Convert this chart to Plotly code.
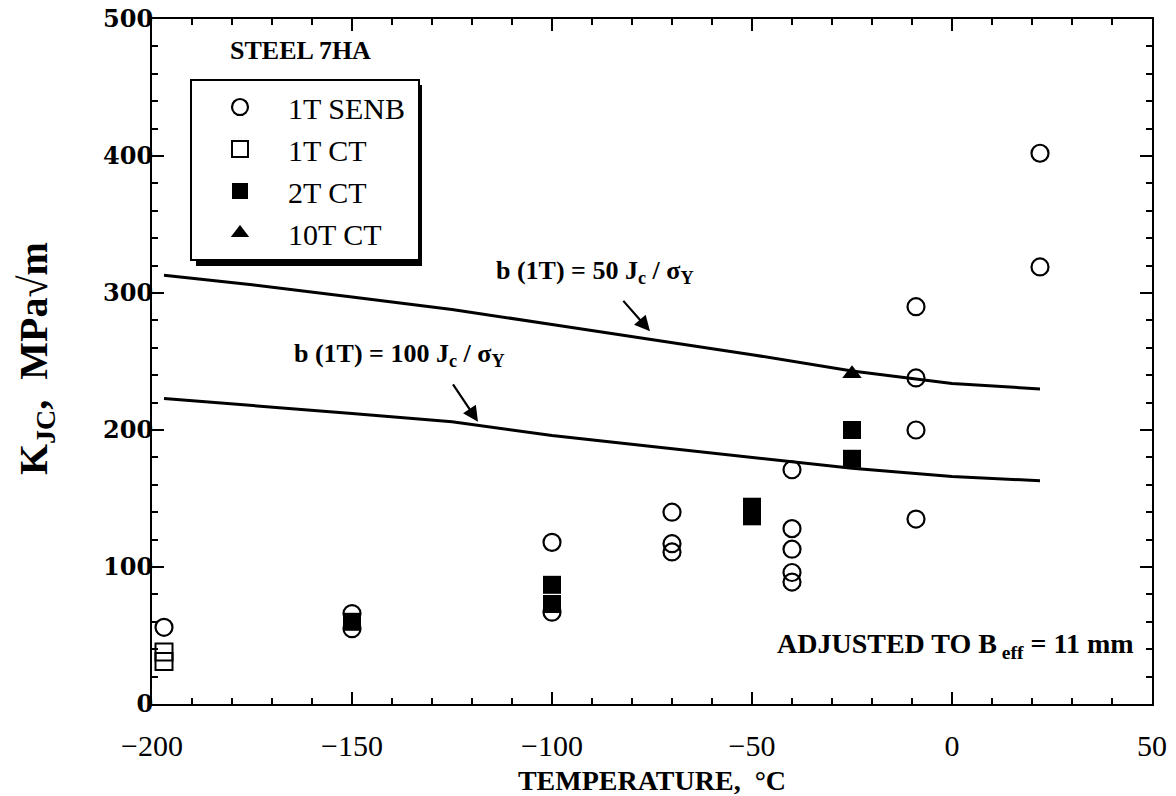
import plotly.graph_objects as go

# ---- data ----
senb_T = [-197, -150, -150, -100, -100, -70, -70, -70, -40, -40, -40, -40, -40, -9, -9, -9, -9, 22, 22]
senb_K = [56, 66, 55, 118, 67, 140, 117, 111, 171, 128, 113, 96, 89, 290, 238, 200, 135, 402, 319]

ct1_T = [-197, -197]
ct1_K = [38, 31]

ct2_T = [-150, -100, -100, -50, -50, -25, -25]
ct2_K = [60, 87, 73, 144, 137, 200, 179]

ct10_T = [-25]
ct10_K = [241]

line50_T = [-197, -175, -150, -125, -100, -75, -50, -25, 0, 22]
line50_K = [313, 306, 297, 288, 277, 266, 255, 243, 234, 230]

line100_T = [-197, -175, -150, -125, -100, -75, -50, -25, 0, 22]
line100_K = [223, 218, 212, 206, 196, 188, 180, 172, 166, 163]

x_ticks = [-200, -150, -100, -50, 0, 50]
x_ticklabels = ["\u2212200", "\u2212150", "\u2212100", "\u221250", "0", "50"]
y_ticks = [0, 100, 200, 300, 400, 500]

SERIF = "Liberation Serif"

fig = go.Figure()

fig.add_trace(go.Scatter(x=line50_T, y=line50_K, mode="lines",
                         line=dict(color="black", width=3), showlegend=False, hoverinfo="skip"))
fig.add_trace(go.Scatter(x=line100_T, y=line100_K, mode="lines",
                         line=dict(color="black", width=3), showlegend=False, hoverinfo="skip"))

fig.add_trace(go.Scatter(x=senb_T, y=senb_K, mode="markers", name="1T SENB\u00a0", legendgroup="a",
                         marker=dict(symbol="circle-open", size=17, color="black", line=dict(width=2.2))))
fig.add_trace(go.Scatter(x=ct1_T, y=ct1_K, mode="markers", name="1T CT", legendgroup="b",
                         marker=dict(symbol="square-open", size=17, color="black", line=dict(width=2))))
fig.add_trace(go.Scatter(x=ct2_T, y=ct2_K, mode="markers", name="2T CT", legendgroup="c",
                         marker=dict(symbol="square", size=18, color="black")))
fig.add_trace(go.Scatter(x=ct10_T, y=ct10_K, mode="markers", name="10T CT", legendgroup="d",
                         marker=dict(symbol="triangle-up", size=17, color="black")))

# legend shadow
fig.add_shape(type="rect", xref="paper", yref="paper",
              x0=0.044, x1=0.270, y0=0.6394, y1=0.9036,
              fillcolor="black", line=dict(width=0), layer="above")

def bold(size, family=SERIF):
    return dict(family=family, size=size, color="black", weight="bold")

common = dict(xref="paper", yref="paper", showarrow=False, xanchor="center", yanchor="middle")
fig.add_annotation(x=0.148, y=0.9547, text="STEEL 7HA", font=bold(26), **common)
fig.add_annotation(x=0.443, y=0.6307,
                   text="b (1T) = 50 J<sub>c</sub> / \u03c3<sub>Y</sub>", font=bold(26), **common)
fig.add_annotation(x=0.247, y=0.5095,
                   text="b (1T) = 100 J<sub>c</sub> / \u03c3<sub>Y</sub>", font=bold(26), **common)
fig.add_annotation(x=0.803, y=0.0861,
                   text="ADJUSTED TO B<sub> eff</sub> = 11 mm", font=bold(28), **common)
fig.add_annotation(x=-0.116, y=0.5036, text="K<sub>JC</sub>,  MPa\u221am", textangle=-90,
                   font=bold(40), **common)

# arrows
fig.add_annotation(x=-75.5, y=272, ax=-28, ay=-32, text="", showarrow=True,
                   arrowhead=2, arrowsize=1.4, arrowwidth=2.2, arrowcolor="black")
fig.add_annotation(x=-118.5, y=206, ax=-26, ay=-39, text="", showarrow=True,
                   arrowhead=2, arrowsize=1.4, arrowwidth=2.2, arrowcolor="black")

fig.update_layout(
    width=1176, height=796,
    margin=dict(l=144, r=32, t=11, b=100, autoexpand=False),
    paper_bgcolor="white", plot_bgcolor="white",
    showlegend=True,
    legend=dict(x=0.038, y=0.9124, xanchor="left", yanchor="top",
                bgcolor="white", bordercolor="black", borderwidth=2,
                font=dict(family=SERIF, size=30, color="black"),
                tracegroupgap=13, itemwidth=86, traceorder="normal"),
    xaxis=dict(range=[-200, 50], tickmode="array", tickvals=x_ticks, ticktext=x_ticklabels,
               showline=True, linecolor="black", linewidth=2, mirror="ticks",
               ticks="inside", ticklen=12, tickwidth=2, tickcolor="black",
               minor=dict(dtick=10, ticks="inside", ticklen=6, tickwidth=1.5, tickcolor="black"),
               showgrid=False, zeroline=False, ticklabelstandoff=14, automargin=False,
               ticklabeloverflow="allow",
               tickfont=dict(family=SERIF, size=30, color="black"),
               title=dict(text="TEMPERATURE,  \u00b0C", standoff=9, font=bold(28))),
    yaxis=dict(range=[0, 500], tickmode="array", tickvals=y_ticks,
               showline=True, linecolor="black", linewidth=2, mirror="ticks",
               ticks="inside", ticklen=12, tickwidth=2, tickcolor="black",
               minor=dict(dtick=20, ticks="inside", ticklen=6, tickwidth=1.5, tickcolor="black"),
               showgrid=False, zeroline=False, ticklabelstandoff=-8, automargin=False,
               ticklabeloverflow="allow",
               tickfont=bold(24, "DejaVu Serif")),
)

fig.write_html("out.html")
